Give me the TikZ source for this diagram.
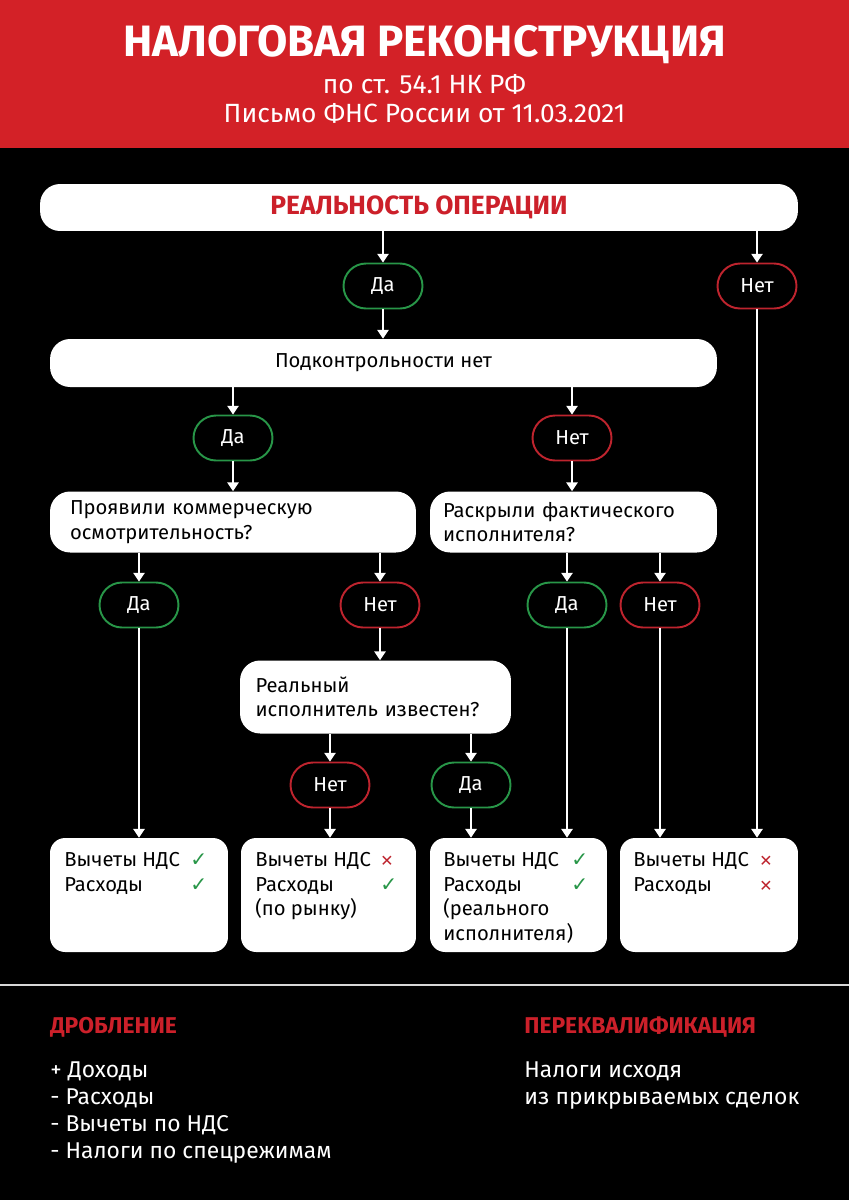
\documentclass[tikz,border=0pt]{standalone}
\usepackage{fontspec}
\setmainfont{Fira Sans}
\newfontfamily\symfont{DejaVu Sans}
\usepackage{tikz}
\usetikzlibrary{positioning,arrows.meta}
\definecolor{headred}{RGB}{211,33,39}
\definecolor{textred}{RGB}{204,32,42}
\definecolor{pillgreen}{RGB}{40,150,72}
\definecolor{pillred}{RGB}{190,36,46}
\definecolor{linegrey}{RGB}{215,215,215}
\newcommand{\yes}{{\symfont\color{pillgreen}✓}}
\newcommand{\nope}{{\symfont\small\color{pillred}✕}}
\newcommand{\boxfont}{\fontsize{11.5}{14}\selectfont}
\tikzset{
    mainbox/.style={
        fill=white,
        rounded corners=0.4cm,
        align=center,
        inner sep=0pt
    },
    qbox/.style={
        fill=white,
        rounded corners=0.4cm,
        align=left,
        font=\boxfont,
        inner xsep=0.4cm
    },
    resbox/.style={
        fill=white,
        rounded corners=0.3cm,
        minimum height=2.28cm,
        inner sep=0pt
    },
    restext/.style={
        anchor=north west,
        align=left,
        inner sep=0pt,
        font=\fontsize{11.5}{14}\selectfont
    },
    pill/.style={
        draw,
        line width=1.1pt,
        fill=black,
        text=white,
        rounded corners=0.45cm,
        minimum width=1.58cm,
        minimum height=0.9cm,
        font=\boxfont
    },
    yespill/.style={pill, draw=pillgreen},
    nopill/.style={pill, draw=pillred},
    arrow/.style={-{Triangle[length=5pt,width=6.5pt]}, white, line width=0.9pt}
}

\begin{document}
\begin{tikzpicture}[x=0.02cm, y=-0.02cm]

% Background and header
\fill[black] (0,0) rectangle (849,1200);
\fill[headred] (0,0) rectangle (849,148);
\useasboundingbox (0,0) rectangle (849,1200);

\node[text=white, font=\fontsize{25}{29}\selectfont\bfseries] (title) at (424.5,45) {НАЛОГОВАЯ РЕКОНСТРУКЦИЯ};
\node[text=white, font=\fontsize{15}{18}\selectfont] (sub1) at (424.5,84) {по ст. 54.1 НК РФ};
\node[text=white, font=\fontsize{15}{18}\selectfont] (sub2) at (424.5,113) {Письмо ФНС России от 11.03.2021};

% Top boxes
\node[mainbox, minimum width=15.16cm, minimum height=0.94cm, text=textred, font=\fontsize{15}{17}\selectfont\bfseries] (real) at (419,207.5) {РЕАЛЬНОСТЬ ОПЕРАЦИИ};
\node[yespill] (da1) at (383,286) {Да};
\node[nopill] (net1) at (757,286) {Нет};

\node[mainbox, minimum width=13.34cm, minimum height=0.96cm, font=\boxfont] (podk) at (383.5,363) {Подконтрольности нет};
\node[yespill] (da2) at (233,438) {Да};
\node[nopill] (net2) at (572,438) {Нет};

% Questions
\node[qbox, text width=6.52cm, minimum height=1.22cm] (q1) at (233,522) {Проявили коммерческую\\осмотрительность?};
\node[qbox, text width=5.22cm, minimum height=1.22cm, inner xsep=0.26cm] (q2) at (573.5,522) {Раскрыли фактического\\исполнителя?};

\node[yespill] (da3) at (139,605) {Да};
\node[nopill] (net3) at (380,605) {Нет};
\node[yespill] (da4) at (567,605) {Да};
\node[nopill] (net4) at (660,605) {Нет};

\node[qbox, text width=4.8cm, minimum height=1.46cm, inner xsep=0.31cm] (q3) at (375.5,697) {Реальный\\исполнитель известен?};
\node[nopill] (net5) at (330,785) {Нет};
\node[yespill] (da5) at (471,785) {Да};

% Results
\node[resbox, minimum width=3.56cm] (resA) at (139,895) {};
\node[resbox, minimum width=3.5cm] (resB) at (328.5,895) {};
\node[resbox, minimum width=3.54cm] (resC) at (518.5,895) {};
\node[resbox, minimum width=3.56cm] (resD) at (709,895) {};

\node[restext] (txtA) at (64,852) {\makebox[2.52cm][l]{Вычеты НДС}\yes\\\makebox[2.52cm][l]{Расходы}\yes};
\node[restext] (txtB) at (255,852) {\makebox[2.5cm][l]{Вычеты НДС}\nope\\\makebox[2.5cm][l]{Расходы}\yes\\(по рынку)};
\node[restext] (txtC) at (443,852) {\makebox[2.56cm][l]{Вычеты НДС}\yes\\\makebox[2.56cm][l]{Расходы}\yes\\(реального\\исполнителя)};
\node[restext] (txtD) at (633,852) {\makebox[2.52cm][l]{Вычеты НДС}\nope\\\makebox[2.52cm][l]{Расходы}\nope};

% Connectors
\draw[arrow] (real.south -| da1) -- (da1.north);
\draw[arrow] (real.south -| net1) -- (net1.north);
\draw[arrow] (da1.south) -- (podk.north -| da1);
\draw[arrow] (podk.south -| da2) -- (da2.north);
\draw[arrow] (podk.south -| net2) -- (net2.north);
\draw[arrow] (da2.south) -- (q1.north -| da2);
\draw[arrow] (net2.south) -- (q2.north -| net2);
\draw[arrow] (q1.south -| da3) -- (da3.north);
\draw[arrow] (q1.south -| net3) -- (net3.north);
\draw[arrow] (q2.south -| da4) -- (da4.north);
\draw[arrow] (q2.south -| net4) -- (net4.north);
\draw[arrow] (net3.south) -- (q3.north -| net3);
\draw[arrow] (q3.south -| net5) -- (net5.north);
\draw[arrow] (q3.south -| da5) -- (da5.north);
\draw[arrow] (da3.south) -- (resA.north -| da3);
\draw[arrow] (net5.south) -- (resB.north -| net5);
\draw[arrow] (da5.south) -- (resC.north -| da5);
\draw[arrow] (da4.south) -- (resC.north -| da4);
\draw[arrow] (net4.south) -- (resD.north -| net4);
\draw[arrow] (net1.south) -- (resD.north -| net1);

% Footer
\draw[linegrey, line width=1.1pt] (0,985) -- (849,985);
\node[anchor=west, inner sep=0pt, text=textred, font=\fontsize{13}{15}\selectfont\bfseries] (drob) at (50,1027) {ДРОБЛЕНИЕ};
\node[anchor=west, inner sep=0pt, text=textred, font=\fontsize{13}{15}\selectfont\bfseries] (perekv) at (524,1027) {ПЕРЕКВАЛИФИКАЦИЯ};
\node[anchor=north west, inner sep=0pt, align=left, text=white, font=\fontsize{13}{15.4}\selectfont] (droblist) at (50,1061) {+ Доходы\\- Расходы\\- Вычеты по НДС\\- Налоги по спецрежимам};
\node[anchor=north west, inner sep=0pt, align=left, text=white, font=\fontsize{13}{15.4}\selectfont] (perekvtext) at (524,1061) {Налоги исходя\\из прикрываемых сделок};

\end{tikzpicture}
\end{document}
